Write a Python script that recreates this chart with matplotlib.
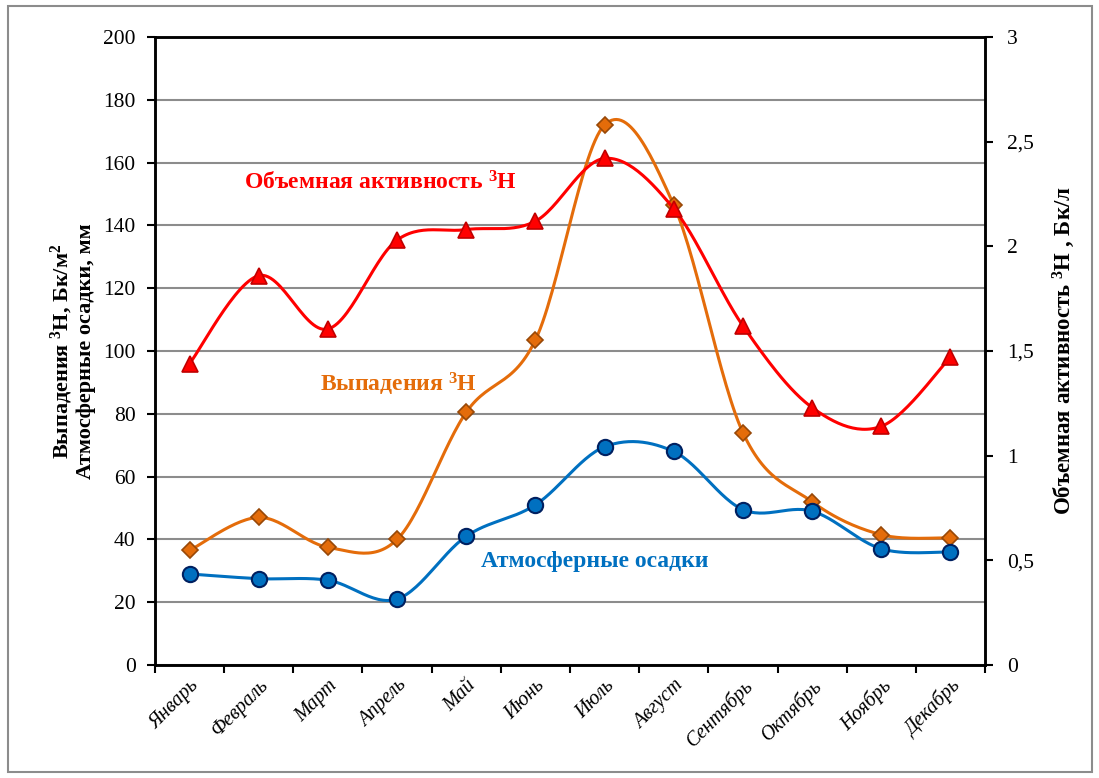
import numpy as np
import matplotlib
matplotlib.use("Agg")
import matplotlib.pyplot as plt
from matplotlib.patches import Rectangle

months = ["Январь", "Февраль", "Март", "Апрель", "Май", "Июнь", "Июль",
          "Август", "Сентябрь", "Октябрь", "Ноябрь", "Декабрь"]
activity = [1.44, 1.86, 1.605, 2.03, 2.08, 2.12, 2.42, 2.18, 1.62, 1.23, 1.14, 1.47]
fallout = [36.5, 47, 37.5, 40, 80.5, 103.5, 172, 146.5, 74, 52, 41.5, 40.5]
precip = [29, 27.5, 27, 21, 41, 51, 69.5, 68, 49.5, 49, 37, 36]

plt.rcParams['font.family'] = ['Liberation Serif', 'DejaVu Serif']
plt.rcParams['mathtext.fontset'] = 'custom'
plt.rcParams['mathtext.rm'] = 'Liberation Serif'
plt.rcParams['mathtext.bf'] = 'Liberation Serif:bold'
plt.rcParams['mathtext.it'] = 'Liberation Serif:italic'


def smooth(xs, ys, n=30):
    xs = np.asarray(xs, float)
    ys = np.asarray(ys, float)
    px, py = [], []
    m = len(xs)
    for i in range(m - 1):
        x0, y0 = (xs[i - 1], ys[i - 1]) if i > 0 else (xs[i], ys[i])
        x3, y3 = (xs[i + 2], ys[i + 2]) if i + 2 < m else (xs[i + 1], ys[i + 1])
        p0 = np.array([xs[i], ys[i]])
        p3 = np.array([xs[i + 1], ys[i + 1]])
        p1 = p0 + (p3 - np.array([x0, y0])) / 6.0
        p2 = p3 - (np.array([x3, y3]) - p0) / 6.0
        t = np.linspace(0, 1, n)[:, None]
        b = ((1 - t) ** 3) * p0 + 3 * ((1 - t) ** 2) * t * p1 + 3 * (1 - t) * t ** 2 * p2 + t ** 3 * p3
        if i > 0:
            b = b[1:]
        px.extend(b[:, 0])
        py.extend(b[:, 1])
    return np.array(px), np.array(py)


fig = plt.figure(figsize=(10.99, 7.78), dpi=100)
ax = fig.add_axes([155 / 1099, 1 - 665 / 778, 830 / 1099, 628 / 778])
ax2 = ax.twinx()

x = np.arange(len(months))

ax.set_xlim(-0.5, 11.5)
ax.set_ylim(0, 200)
ax2.set_ylim(0, 3)

ax.set_yticks(np.arange(0, 201, 20))
ax2.set_yticks([0, 0.5, 1, 1.5, 2, 2.5, 3])
ax2.set_yticklabels(["0", "0,5", "1", "1,5", "2", "2,5", "3"])
ax.yaxis.grid(True, color='#8c8c8c', linewidth=1.5)
ax.set_axisbelow(True)

ax.set_xticks(np.arange(-0.5, 12, 1))
ax.set_xticklabels([])
ax.set_xticks(x, minor=True)
ax.set_xticklabels(months, minor=True, rotation=45, ha='right', rotation_mode='anchor',
                   fontsize=14.5, style='italic')
ax.tick_params(axis='x', which='minor', length=0, pad=8)
ax.tick_params(axis='x', which='major', length=6, width=1.5, direction='out')
ax.tick_params(axis='y', length=6, width=1.5, labelsize=15.5, pad=8)
ax2.tick_params(axis='y', length=6, width=1.5, labelsize=15.5, pad=10)

for a in (ax, ax2):
    for s in a.spines.values():
        s.set_linewidth(1.8)

# Fallout (orange)
sx, sy = smooth(x, fallout)
ax.plot(sx, sy, color='#E46C0A', lw=2.2, zorder=3)
ax.plot(x, fallout, ls='none', marker='D', ms=8, mfc='#E46C0A', mec='#984807', mew=1.2, zorder=4)

# Precipitation (blue)
sx, sy = smooth(x, precip)
ax.plot(sx, sy, color='#0070C0', lw=2.2, zorder=3)
ax.plot(x, precip, ls='none', marker='o', ms=11, mfc='#0070C0', mec='#002060', mew=1.5, zorder=4)

# Activity (red) on secondary axis
sx, sy = smooth(x, activity)
ax2.plot(sx, sy, color='#FF0000', lw=2.2, zorder=3)
ax2.plot(x, activity, ls='none', marker='^', ms=11, mfc='#FF0000', mec='#C00000', mew=1.2, zorder=4)

sup3 = r"$^{\mathbf{3}}$"
sup2 = r"$^{\mathbf{2}}$"
ax.set_ylabel("Выпадения " + sup3 + "H, Бк/м" + sup2 + "\nАтмосферные осадки, мм", fontsize=16,
              fontweight='bold', linespacing=1.05, labelpad=5)
ax2.set_ylabel("Объемная активность " + sup3 + "H , Бк/л", fontsize=16.5, fontweight='bold',
               labelpad=12)

fig.text(380 / 1099, 1 - 183 / 778, "Объемная активность " + sup3 + "H", color='#FF0000',
         fontsize=17, fontweight='bold', ha='center', va='center')
fig.text(398 / 1099, 1 - 384 / 778, "Выпадения " + sup3 + "H", color='#E46C0A', fontsize=17,
         fontweight='bold', ha='center', va='center')
fig.text(595 / 1099, 1 - 562 / 778, "Атмосферные осадки", color='#0070C0', fontsize=17,
         fontweight='bold', ha='center', va='center')

fig.patches.append(Rectangle((8 / 1099, 6 / 778), 1084 / 1099, 766 / 778, transform=fig.transFigure,
                             fill=False, edgecolor='#8c8c8c', lw=1.5))

fig.savefig("out.png", dpi=100)
